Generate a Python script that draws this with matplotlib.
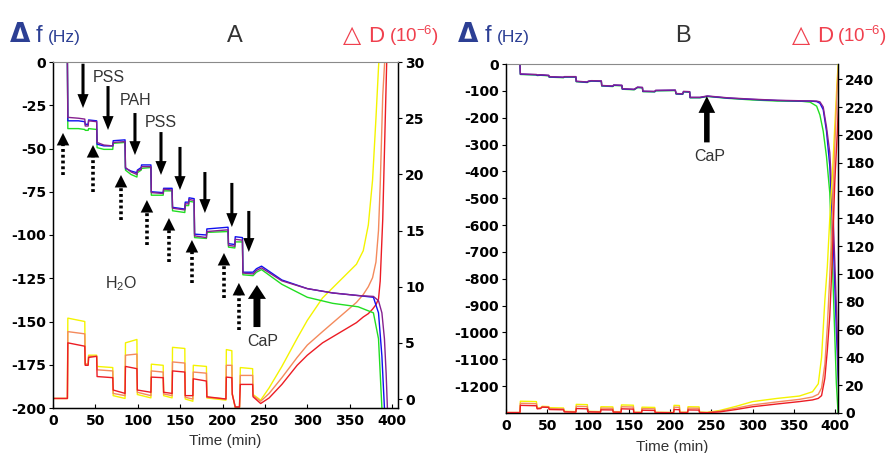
from matplotlib import pyplot as plt
import matplotlib

plt.rcParams['axes.unicode_minus'] = False
plt.rcParams['font.family'] = ['Liberation Sans', 'DejaVu Sans']
plt.rcParams['mathtext.fontset'] = 'custom'
plt.rcParams['mathtext.rm'] = 'Liberation Sans'
plt.rcParams['mathtext.it'] = 'Liberation Sans:italic'

#%% colores
c_blue = '#1010f0'
c_purple = '#86208f'
c_green = '#22dd22'
c_yellow = '#f4f400'
c_orange = '#f48a5c'
c_red = '#ec1c24'
c_txt = '#333333'

#%% datos panel A - frecuencia (Hz)
tA_f = [0, 17, 17.5, 30, 37.5, 38, 41.5, 42, 51.5, 52, 60, 70.5, 71, 85, 85.5, 92, 99, 99.5, 104, 104.5, 115.5,
        116, 130, 130.5, 140.5, 141, 155.5, 156, 160, 160.5, 166.5, 167, 181, 181.5, 206.5, 207, 214.5, 215, 223.5,
        224, 236, 240, 246, 270, 300, 330, 360, 378, 384, 388, 391, 393, 394.5, 396]
fA_purple = [0, 0, -32, -32.5, -33, -37, -37, -34, -34.5, -46.5, -48, -48.5, -46.5, -46, -61, -63.5, -65, -63, -62, -60.5, -60.5,
             -75.5, -76, -73.5, -74, -84.5, -85.5, -82, -82, -79.5, -80, -100.5, -101.5, -98, -97, -106, -106.5, -102.5, -103,
             -122, -122.5, -120.5, -119, -126.5, -131, -133.5, -135, -135.5, -138, -145, -160, -180, -200, -215]
fA_blue = [0, 0, -34, -34, -34.5, -36, -36, -33.5, -34, -47.5, -48.5, -48.5, -45.5, -45, -61.5, -63, -64, -62.5, -61, -59.5, -59.5,
           -75, -75.5, -73, -73, -84, -85, -81, -81, -78.5, -79, -99.5, -100, -96.5, -95.5, -105, -105.5, -101, -101.5,
           -121.5, -121.5, -119.5, -118, -126, -131, -133.5, -135, -136, -145, -170, -200, -215, -220, -225]
fA_green = [0, 0, -38.5, -38.5, -39, -39.5, -39.5, -38.5, -39, -49.5, -50.5, -50.5, -47, -46.5, -62.5, -65, -66.5, -64, -62.5, -61.5, -61,
            -77, -77, -74.5, -74.5, -86, -87, -83, -83, -80.5, -81, -101.5, -102, -98.5, -98, -107, -107.5, -104, -104,
            -123, -123.5, -121.5, -120, -128.5, -136, -139.5, -141.5, -145, -160, -200, -215, -220, -225, -230]

#%% datos panel A - disipacion (1e-6)
tA_d = [0, 17, 17.5, 37.5, 38, 41.5, 42, 51.5, 52, 70.5, 71, 85, 85.5, 99, 99.5, 115.5, 116, 130, 130.5, 140.5, 141,
        155.5, 156, 165, 165.5, 181, 181.5, 204, 204.5, 211, 211.5, 215, 220, 221, 235.5, 236, 245, 255, 270, 288,
        300, 318, 338, 358, 366, 372, 377, 381, 384, 386, 389, 392, 394]
dA_red = [0.05, 0.05, 5.0, 4.7, 3.0, 3.0, 3.7, 3.8, 2.0, 1.9, 0.8, 0.5, 2.9, 2.7, 0.8, 0.6, 1.95, 1.9, 0.6, 0.5, 2.5,
          2.4, 0.3, 0.3, 1.8, 1.6, 0.2, 0.0, 1.95, 1.9, 0.4, -0.7, -0.7, 1.3, 1.3, 0.2, -0.4, 0.1, 1.3, 3.0,
          3.9, 5.0, 5.9, 6.8, 7.3, 7.6, 8.0, 8.4, 8.9, 10.5, 16, 25, 31]
dA_orange = [0.05, 0.05, 6.0, 5.8, 3.1, 3.1, 3.8, 3.8, 2.6, 2.5, 0.5, 0.3, 3.9, 4.0, 0.6, 0.3, 2.5, 2.4, 0.45, 0.3, 3.3,
             3.2, 0.15, 0.0, 2.4, 2.3, 0.15, 0.0, 3.0, 3.0, 0.45, -0.75, -0.75, 2.1, 2.1, 0.3, -0.2, 0.5, 1.9, 3.7,
             4.8, 6.0, 7.3, 8.6, 9.3, 10.0, 10.8, 12.2, 15, 19, 27, 31, 32]
dA_yellow = [0.05, 0.05, 7.2, 6.9, 3.1, 3.1, 3.9, 3.9, 2.9, 2.8, 0.3, 0.05, 5.0, 5.3, 0.4, 0.1, 3.1, 3.0, 0.3, 0.1, 4.6,
             4.5, 0.0, -0.2, 3.0, 2.9, 0.1, -0.1, 4.4, 4.3, 0.5, -0.8, -0.8, 2.8, 2.7, 0.4, -0.1, 1.0, 2.9, 5.4,
             7.0, 9.0, 10.5, 12.0, 13.2, 15.5, 19.5, 25, 29.5, 32, 33, 34, 35]

#%% datos panel B - frecuencia (Hz)
tB_f = [0, 17, 17.5, 37, 38, 42, 52, 52.5, 70, 71, 85, 85.5, 99, 100, 104, 116, 116.5, 130, 131, 141, 141.5, 156,
        160, 166, 166.5, 181, 182, 206, 207, 215, 216, 223.5, 224, 236, 245, 270, 300, 330, 360, 370, 378, 382,
        386, 390, 394, 398, 402, 406]
fB_purple = [0, 0, -37, -39, -41, -40, -42, -47, -49, -47, -47, -64, -67, -64, -62, -63, -80, -82, -78, -79, -92, -94,
             -86, -87, -101, -102, -98, -97, -110, -111, -102, -103, -124, -124, -119, -126, -131, -135, -137, -137.5, -138, -141,
             -160, -235, -330, -560, -900, -1300]
fB_blue = [0, 0, -38, -40, -42, -41, -43, -48, -50, -48, -48, -65, -68, -65, -63, -64, -81, -83, -79, -80, -93, -95,
           -87, -88, -102, -103, -99, -98, -111, -112, -103, -104, -125, -125, -120, -127, -132, -136, -138, -138, -140, -146,
           -170, -250, -380, -640, -990, -1300]
fB_green = [0, 0, -39, -41, -43, -42, -44, -49, -51, -49, -49, -66, -69, -66, -64, -65, -82, -84, -80, -81, -94, -96,
            -88, -89, -103, -104, -100, -99, -112, -113, -104, -105, -126, -126, -121, -128, -134, -138, -139, -142, -157, -190,
            -250, -345, -480, -816, -1190, -1400]

#%% datos panel B - disipacion (1e-6)
tB_d = [0, 17, 17.5, 37, 38, 42, 44, 52, 52.5, 70, 71, 85, 85.5, 99, 99.5, 115, 115.5, 130, 130.5, 140, 140.5, 155,
        155.5, 165, 165.5, 181, 181.5, 204, 204.5, 211, 211.5, 221, 221.5, 235, 235.5, 245, 260, 280, 300, 330,
        357, 373, 380, 384, 388, 391, 394, 397, 400, 403, 406]
dB_red = [0.3, 0.3, 5.5, 5.2, 3.0, 3.2, 4.2, 4.0, 2.5, 2.3, 0.8, 0.6, 3.2, 3.0, 0.8, 0.6, 2.3, 2.2, 0.6, 0.5, 3.0, 2.8,
          0.3, 0.3, 2.0, 1.8, 0.3, 0.2, 2.5, 2.4, 0.3, 0.3, 2.2, 2.1, 0.3, 0.2, 0.8, 2.5, 4.5, 6.5,
          8.2, 9.4, 10.5, 12.5, 25, 45, 70, 110, 165, 200, 240]
dB_orange = [0.3, 0.3, 7.0, 6.7, 3.3, 3.5, 4.5, 4.3, 3.2, 3.0, 1.0, 0.8, 4.8, 4.6, 1.0, 0.8, 3.5, 3.4, 0.8, 0.7, 4.5, 4.3,
             0.4, 0.4, 3.2, 3.0, 0.4, 0.3, 4.2, 4.1, 0.4, 0.4, 3.5, 3.4, 0.5, 0.3, 1.3, 3.5, 5.8, 8.0,
             9.8, 11.5, 13.5, 18, 35, 62, 98, 140, 190, 235, 260]
dB_yellow = [0.3, 0.3, 8.5, 8.2, 3.5, 3.7, 4.8, 4.6, 3.8, 3.6, 1.2, 1.0, 6.2, 6.0, 1.2, 1.0, 4.5, 4.4, 1.0, 0.9, 5.8, 5.6,
             0.5, 0.5, 4.2, 4.0, 0.5, 0.4, 5.5, 5.4, 0.5, 0.5, 4.5, 4.4, 0.6, 0.5, 1.8, 4.8, 8.2, 10.5,
             12.2, 15.3, 21, 40, 81, 105, 140, 170, 205, 240, 265]

#%% flechas panel A (t, cola, punta) en Hz
flechas_add = [(35.4, -1, -26.6), (64.9, -13.9, -39.3), (96.7, -29.5, -53.8), (127.4, -40.5, -65.3),
               (149.8, -49.1, -74), (179.2, -63.6, -87.3), (211, -69.9, -95.4), (231, -86.1, -109.8)]
flechas_lav = [(11.8, -65.3, -41), (47.2, -75.1, -48), (80.2, -91.3, -65.3), (110.8, -105.8, -79.8),
               (136.8, -115.6, -90.2), (163.9, -127.7, -102.9), (201.7, -136.4, -110.4), (219.3, -154.9, -127.7)]
flecha_cap_A = (240.6, -153.2, -128.9)
flecha_cap_B = (244.4, -292, -120)


def ejes_base(ax, axr):
    ax.spines['top'].set_color('#8a8a8a')
    ax.spines['top'].set_linewidth(0.8)
    for s in ['left', 'bottom']:
        ax.spines[s].set_linewidth(1.0)
    axr.spines['right'].set_linewidth(1.0)
    axr.spines['top'].set_visible(False)
    ax.tick_params(axis='x', direction='in', length=3, labelsize=10, pad=4)
    ax.tick_params(axis='y', direction='out', length=3, labelsize=10, pad=2)
    axr.tick_params(axis='y', direction='out', length=3, labelsize=10, pad=2)
    for lab in ax.get_xticklabels() + ax.get_yticklabels() + axr.get_yticklabels():
        lab.set_fontweight('bold')
        lab.set_family('DejaVu Sans')
    ax.set_xlabel('Time (min)', fontsize=11, color=c_txt, labelpad=5)


def flecha(ax, t, y0, y1, w, hw, hl, dotted=False):
    if dotted:
        hl_data = 7.0 if y1 > y0 else -7.0
        ax.plot([t, t], [y0, y1 - hl_data], color='black', lw=2.6, ls=(0, (0.8, 0.8)),
                solid_capstyle='butt', dash_capstyle='butt', zorder=6)
        ax.annotate('', xy=(t, y1), xytext=(t, y1 - hl_data),
                    arrowprops=dict(width=0.1, headwidth=hw, headlength=hl, facecolor='black',
                                    edgecolor='none', shrink=0), zorder=6)
    else:
        ax.annotate('', xy=(t, y1), xytext=(t, y0),
                    arrowprops=dict(width=w, headwidth=hw, headlength=hl, facecolor='black',
                                    edgecolor='none', shrink=0), zorder=6)


fig = plt.figure(figsize=(8.9, 4.53), dpi=100)

#%% panel A
axA = fig.add_axes([53/890, 1-408/453, 345/890, 346/453])
axA_r = axA.twinx()
axA_r.plot(tA_d, dA_yellow, color=c_yellow, lw=1.0)
axA_r.plot(tA_d, dA_orange, color=c_orange, lw=1.0)
axA_r.plot(tA_d, dA_red, color=c_red, lw=1.0)
axA.plot(tA_f, fA_green, color=c_green, lw=1.0)
axA.plot(tA_f, fA_blue, color=c_blue, lw=1.0)
axA.plot(tA_f, fA_purple, color=c_purple, lw=1.0)
axA.set_zorder(axA_r.get_zorder() + 1)
axA.patch.set_visible(False)
axA.set_xlim(0, 407)
axA.set_ylim(-200, 0)
axA.set_yticks(range(0, -201, -25))
axA.set_xticks(range(0, 401, 50))
axA_r.set_ylim(-0.8, 30)
axA_r.set_yticks(range(0, 31, 5))
ejes_base(axA, axA_r)

for t, y0, y1 in flechas_add:
    flecha(axA, t, y0, y1, 2.2, 8, 10)
for t, y0, y1 in flechas_lav:
    flecha(axA, t, y0, y1, 2.2, 9, 9, dotted=True)
flecha(axA, flecha_cap_A[0], flecha_cap_A[1], flecha_cap_A[2], 5, 13, 10)

txt_kw = dict(fontsize=11.5, color=c_txt, ha='center', va='center')
axA.text(66, -9.2, 'PSS', **txt_kw)
axA.text(97.9, -22, 'PAH', **txt_kw)
axA.text(127.4, -34.7, 'PSS', **txt_kw)
axA.text(80, -128.3, 'H$_2$O', **txt_kw)
axA.text(247.6, -161.3, 'CaP', **txt_kw)

#%% panel B
axB = fig.add_axes([506/890, 1-413/453, 332/890, 349/453])
axB_r = axB.twinx()
axB_r.plot(tB_d, dB_yellow, color=c_yellow, lw=1.0)
axB_r.plot(tB_d, dB_orange, color=c_orange, lw=1.0)
axB_r.plot(tB_d, dB_red, color=c_red, lw=1.0)
axB.plot(tB_f, fB_green, color=c_green, lw=1.0)
axB.plot(tB_f, fB_blue, color=c_blue, lw=1.0)
axB.plot(tB_f, fB_purple, color=c_purple, lw=1.0)
axB.set_xlim(0, 404)
axB.set_ylim(-1300, 0)
axB.set_yticks(range(0, -1201, -100))
axB.set_xticks(range(0, 401, 50))
axB_r.set_ylim(0, 251)
axB_r.set_yticks(range(0, 241, 20))
ejes_base(axB, axB_r)
axB_r.annotate('', xy=(flecha_cap_B[0], -120), xytext=(flecha_cap_B[0], -292), xycoords=axB.transData,
               arrowprops=dict(width=4, headwidth=12, headlength=12, facecolor='black', edgecolor='none', shrink=0))
axB_r.text(248, -345, 'CaP', transform=axB.transData, **txt_kw)

#%% encabezados
azul = '#2c3f94'
rojo = '#f0404e'
for x0, xf, xhz, xt, tit, xr, xd, x10 in [(10, 36, 48, 235, 'A', 343, 368, 389), (458, 485, 497, 683, 'B', 792, 817, 837)]:
    fig.text(x0/890, 1-42/453, 'Δ', color=azul, fontsize=19, fontweight='bold', family='DejaVu Sans', va='baseline')
    fig.text(xf/890, 1-42/453, 'f', color=azul, fontsize=17, va='baseline')
    fig.text(xhz/890, 1-42/453, '(Hz)', color=azul, fontsize=12.5, va='baseline')
    fig.text(xt/890, 1-42/453, tit, color=c_txt, fontsize=17, ha='center', va='baseline')
    fig.text(xr/890, 1-42/453, '△', color=rojo, fontsize=17, family='DejaVu Sans', va='baseline')
    fig.text(xd/890, 1-42/453, 'D', color=rojo, fontsize=16, va='baseline')
    fig.text(x10/890, 1-42/453, '(10$^{-6}$)', color=rojo, fontsize=13.5, va='baseline')

plt.savefig('out.png', dpi=100)
